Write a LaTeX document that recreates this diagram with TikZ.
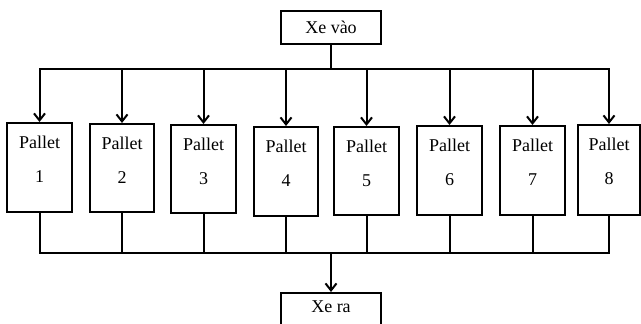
\documentclass[tikz,border=0pt]{standalone}
\usepackage{fontspec}
\setmainfont{Liberation Serif}
\usetikzlibrary{arrows.meta}
\begin{document}
\begin{tikzpicture}[x=1pt,y=-1pt,
  box/.style={draw, line width=2pt, fill=white, inner sep=0pt},
  lbl/.style={font=\fontsize{18}{21}\selectfont, inner sep=0pt},
  wire/.style={line width=2pt},
  tip/.tip={Straight Barb[length=7pt,width=11pt,line width=2pt]},
  feed/.style={wire, -tip}]
\useasboundingbox (0,0) rectangle (641,324);

% entry and exit boxes
\node[box, minimum width=100pt, minimum height=33pt, lbl] (in) at (331,27.5) {Xe vào};
\node[box, minimum width=100pt, minimum height=38pt] (out) at (331,312) {};
\node[lbl] (outt) at (331,307) {Xe ra};

% pallets: index / left / right / top / bottom
\foreach \i/\l/\r/\t/\b in {1/7/72/123/212, 2/90/154/124/212, 3/171/236/125/213,
                            4/254/318/127/216, 5/334/399/127/215, 6/417/482/126/215,
                            7/500/565/126/215, 8/578/640/125/215}{
  \node[box, minimum width={\r-\l}, minimum height={\b-\t}] (p\i)
    at ({(\l+\r)/2},{(\t+\b)/2}) {};
  \node[lbl] (p\i a) at ({(\l+\r)/2},{\t+19}) {Pallet};
  \node[lbl] (p\i b) at ({(\l+\r)/2},{\t+54}) {\i};
}

% distribution bus from the entry
\coordinate (tl) at (39,69);
\coordinate (bl) at (41,253);
\draw[wire] (in.south) -- (in.south |- tl);
\draw[wire, tip-tip] (p1.north) -- (p1.north |- tl) -- (p8.north |- tl) -- (p8.north);
\foreach \i in {2,...,7}{
  \draw[feed] (p\i.north |- tl) -- (p\i.north);
}

% collection bus towards the exit
\draw[wire] (p1.south) -- (p1.south |- bl) -- (p8.south |- bl) -- (p8.south);
\foreach \i in {2,...,7}{
  \draw[wire] (p\i.south) -- (p\i.south |- bl);
}
\draw[feed] (out.north |- bl) -- (out.north);
\end{tikzpicture}
\end{document}
